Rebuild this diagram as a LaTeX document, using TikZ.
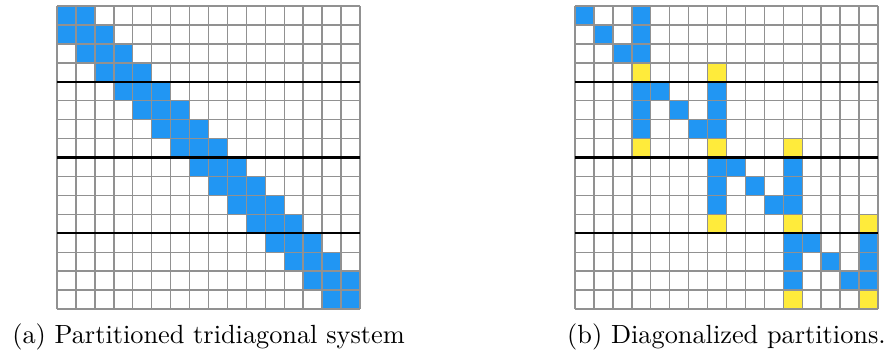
\documentclass[tikz,border=0pt]{standalone}
\usepackage{amsmath, amssymb}
\usepackage{tikz}

\definecolor{azulcelda}{RGB}{33,150,243}
\definecolor{amarillocelda}{RGB}{255,235,59}
\definecolor{grisrejilla}{RGB}{145,145,145}

% Celda (columna, fila) de una matriz 16x16, fila 0 arriba
\newcommand{\celda}[3]{\fill[#3] ({#1},{15-(#2)}) rectangle ++(1,1);}

\begin{document}
\begin{tikzpicture}[x=7.2pt, y=7.2pt,
		rejilla/.style={grisrejilla, line width=0.55pt, step={(1,1)}},
		particion/.style={black, line width=0.85pt}]

		\useasboundingbox (-3.01,-2.48) rectangle (43.72,16.32);

		% Matriz tridiagonal
		\foreach \r [evaluate=\r as \a using {max(\r-1,0)},
			evaluate=\r as \b using {min(\r+2,16)}] in {0,...,15}
			{\fill[azulcelda] (\a,15-\r) rectangle (\b,16-\r);}
		\draw[rejilla] (0,0) grid (16,16);

		% Lineas de particion
		\draw[particion] (0,12) -- (16,12);
		\draw[particion] (0,8) -- (16,8);
		\draw[particion] (0,4) -- (16,4);

		\node[anchor=base] (capa) at (8,-1.8) {(a) Partitioned tridiagonal system};

		% Particiones diagonalizadas
		\begin{scope}[shift={(27.35,0)}]
			\foreach \p in {0,...,3} {
				\foreach \i in {0,1,2} {
					\celda{4*\p+\i}{4*\p+\i}{azulcelda}
					\celda{4*\p+3}{4*\p+\i}{azulcelda}
				}
				\celda{4*\p+3}{4*\p+3}{amarillocelda}
			}
			% Columna de acoplamiento con la particion anterior
			\foreach \p in {1,2,3} {
				\foreach \i in {0,1,2} {
					\celda{4*\p-1}{4*\p+\i}{azulcelda}
				}
				\celda{4*\p-1}{4*\p+3}{amarillocelda}
			}
			% Acoplamiento con la particion siguiente
			\foreach \p in {0,1,2} {
				\celda{4*\p+7}{4*\p+3}{amarillocelda}
			}

			\draw[rejilla] (0,0) grid (16,16);

			\draw[particion] (0,12) -- (16,12);
			\draw[particion] (0,8) -- (16,8);
			\draw[particion] (0,4) -- (16,4);

			\node[anchor=base] (capb) at (8,-1.8) {(b) Diagonalized partitions.};
		\end{scope}

	\end{tikzpicture}
\end{document}
